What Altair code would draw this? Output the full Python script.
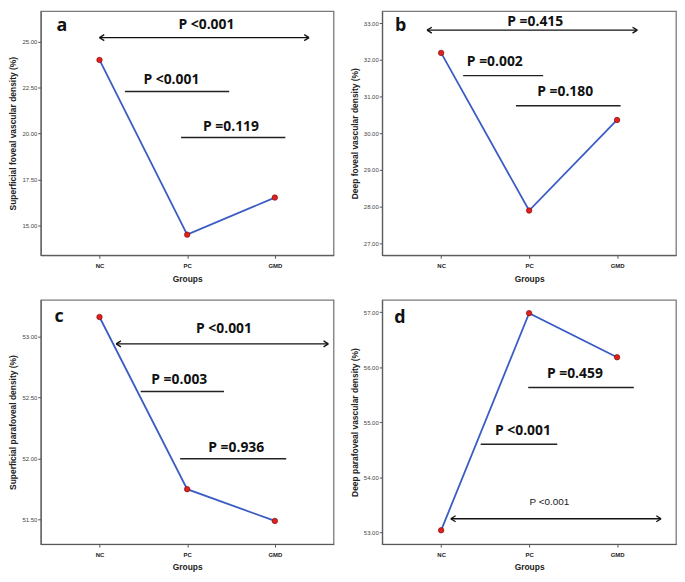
import altair as alt
import pandas as pd

groups = ["NC", "PC", "GMD"]

# mean values
sup_foveal = [24.0, 14.52, 16.53]
deep_foveal = [32.19, 27.89, 30.36]
sup_parafoveal = [53.16, 51.75, 51.49]
deep_parafoveal = [53.04, 56.98, 56.18]

ticks_a = [15.0, 17.5, 20.0, 22.5, 25.0]
ticks_b = [27.0, 28.0, 29.0, 30.0, 31.0, 32.0, 33.0]
ticks_c = [51.5, 52.0, 52.5, 53.0]
ticks_d = [53.0, 54.0, 55.0, 56.0, 57.0]

titles = [
    "Superficial foveal  vascular density (%)",
    "Deep foveal vascular density (%)",
    "Superficial parafoveal  density (%)",
    "Deep parafoveal vascular  density (%)",
]

# annotations (in data units: x = group index, y = value)
ann = {
    "a": dict(domain=[13.4, 26.65], letter=(-0.43, 25.85),
              texts=[("P <0.001", 1.22, 25.90), ("P <0.001", 0.82, 22.93), ("P =0.119", 1.50, 20.37)],
              bars=[(0.29, 1.48, 22.29), (0.93, 2.12, 19.79)],
              arrow=(0.0, 2.39, 25.21), small=None),
    "b": dict(domain=[26.67, 33.33], letter=(-0.46, 32.93),
              texts=[("P =0.415", 1.07, 33.02), ("P =0.002", 0.61, 31.94), ("P =0.180", 1.41, 31.11)],
              bars=[(0.25, 1.16, 31.57), (0.85, 2.04, 30.75)],
              arrow=(-0.16, 2.23, 32.81), small=None),
    "c": dict(domain=[51.30, 53.30], letter=(-0.46, 53.16),
              texts=[("P <0.001", 1.42, 53.06), ("P =0.003", 0.91, 52.64), ("P =0.936", 1.56, 52.09)],
              bars=[(0.47, 1.42, 52.55), (0.92, 2.13, 52.00)],
              arrow=(0.19, 2.61, 52.94), small=None),
    "d": dict(domain=[52.79, 57.22], letter=(-0.47, 56.89),
              texts=[("P =0.459", 1.52, 55.87), ("P <0.001", 0.93, 54.85)],
              bars=[(0.99, 2.19, 55.63), (0.45, 1.32, 54.60)],
              arrow=(0.11, 2.50, 53.25), small=("P <0.001", 1.23, 53.55)),
}

H = 246
XDOM = [-0.67, 2.67]
label_expr = "[" + ",".join("'%s'" % g for g in groups) + "][datum.value]"


def panel(key, values, yticks, ytitle, width):
    a = ann[key]
    xs = alt.Scale(domain=XDOM, nice=False, zero=False)
    ys = alt.Scale(domain=a["domain"], nice=False, zero=False)
    xaxis = alt.Axis(values=[0, 1, 2], labelExpr=label_expr, title="Groups")
    yaxis = alt.Axis(values=yticks, format=".2f", title=ytitle)

    def X(f):
        return alt.X(f, scale=xs, axis=xaxis)

    def Y(f):
        return alt.Y(f, scale=ys, axis=yaxis)

    df = pd.DataFrame({"idx": list(range(len(groups))), "group": groups, "v": values})
    line = alt.Chart(df).mark_line(color="#3b5cc4", strokeWidth=1.8).encode(x=X("idx:Q"), y=Y("v:Q"))
    pts = alt.Chart(df).mark_point(filled=True, fill="#e3211c", stroke="#7a1010",
                                   strokeWidth=0.7, size=30, opacity=1).encode(x=X("idx:Q"), y=Y("v:Q"))

    tdf = pd.DataFrame(a["texts"], columns=["t", "x", "y"])
    texts = alt.Chart(tdf).mark_text(font="Open Sans", fontWeight="bold", fontSize=14,
                                     color="#111", align="center", baseline="middle").encode(
        x=X("x:Q"), y=Y("y:Q"), text="t:N")
    bdf = pd.DataFrame(a["bars"], columns=["x1", "x2", "y"])
    bars = alt.Chart(bdf).mark_rule(color="#222", strokeWidth=1.5).encode(
        x=X("x1:Q"), x2="x2:Q", y=Y("y:Q"))
    ax1, ax2, ay = a["arrow"]
    adf = pd.DataFrame({"x1": [ax1], "x2": [ax2], "y": [ay]})
    arule = alt.Chart(adf).mark_rule(color="#111", strokeWidth=1.3).encode(
        x=X("x1:Q"), x2="x2:Q", y=Y("y:Q"))
    lhead = alt.Chart(adf).mark_point(shape="M0,0L1.6,-1M0,0L1.6,1", filled=False,
                                      color="#111", strokeWidth=1.3, size=36, opacity=1).encode(
        x=X("x1:Q"), y=Y("y:Q"))
    rhead = alt.Chart(adf).mark_point(shape="M0,0L-1.6,-1M0,0L-1.6,1", filled=False,
                                      color="#111", strokeWidth=1.3, size=36, opacity=1).encode(
        x=X("x2:Q"), y=Y("y:Q"))
    ldf = pd.DataFrame({"t": [key], "x": [a["letter"][0]], "y": [a["letter"][1]]})
    letter = alt.Chart(ldf).mark_text(font="Open Sans", fontWeight="bold", fontSize=18,
                                      color="#111", align="center", baseline="middle").encode(
        x=X("x:Q"), y=Y("y:Q"), text="t:N")
    layers = [line, pts, bars, texts, arule, lhead, rhead, letter]
    if a["small"]:
        sdf = pd.DataFrame([a["small"]], columns=["t", "x", "y"])
        layers.append(alt.Chart(sdf).mark_text(font="Liberation Sans", fontSize=10,
                                               color="#222", align="center", baseline="middle").encode(
            x=X("x:Q"), y=Y("y:Q"), text="t:N"))
    return alt.layer(*layers).properties(width=width, height=H)


pa = panel("a", sup_foveal, ticks_a, titles[0], 295)
pb = panel("b", deep_foveal, ticks_b, titles[1], 296)
pc = panel("c", sup_parafoveal, ticks_c, titles[2], 295)
pd_ = panel("d", deep_parafoveal, ticks_d, titles[3], 296)

chart = alt.vconcat(
    alt.hconcat(pa, pb, spacing=15),
    alt.hconcat(pc, pd_, spacing=15),
    spacing=15,
).properties(
    padding={"left": 0, "top": 0, "right": 0, "bottom": 0}
).configure_view(
    stroke="#7a7a7a", strokeWidth=1.3
).configure_axis(
    grid=False, domainColor="#555", domainWidth=1, tickColor="#555", tickSize=3,
    labelFont="Liberation Sans", labelFontSize=6, labelColor="#444",
    titleFont="Liberation Sans", titleFontSize=8.5, titleFontWeight="bold", titleColor="#222",
).configure_axisX(
    labelFontWeight="bold", labelColor="#222", labelPadding=4, titlePadding=6,
).configure_axisY(
    labelPadding=1, titlePadding=4,
)

chart.save("out.html", embed_options={"renderer": "svg", "actions": False})
